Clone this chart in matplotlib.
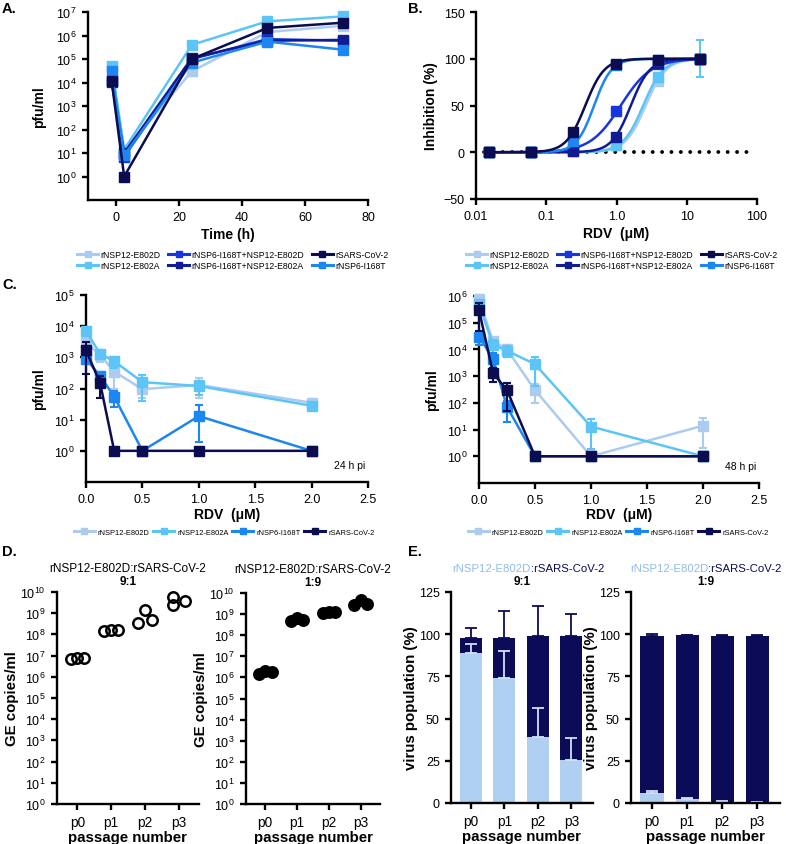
import numpy as np
import matplotlib
matplotlib.use('Agg')
import matplotlib.pyplot as plt
from matplotlib.lines import Line2D
from matplotlib.ticker import NullLocator, FixedLocator

plt.rcParams['font.family'] = ['Liberation Sans', 'DejaVu Sans']
plt.rcParams['mathtext.default'] = 'regular'

W, H = 786, 845

# ---- data ----
names = ['rNSP12-E802D', 'rNSP12-E802A', 'rNSP6-I168T+NSP12-E802D',
         'rNSP6-I168T+NSP12-E802A', 'rSARS-CoV-2', 'rNSP6-I168T']
colors = {'rNSP12-E802D': '#abcbef', 'rNSP12-E802A': '#5cc4f6',
          'rNSP6-I168T+NSP12-E802D': '#1536e0', 'rNSP6-I168T+NSP12-E802A': '#111c94',
          'rSARS-CoV-2': '#0c0d50', 'rNSP6-I168T': '#1c86f2'}

# A: growth kinetics (pfu/ml)
time_h = [-1.5, 2.5, 24, 48, 72]
growth_e802d = [4.5e4, 12, 3e4, 1.4e6, 2.6e6]
growth_e802a = [5e4, 14, 4e5, 4e6, 6.5e6]
growth_i168t_e802d = [1.2e4, 7, 1e5, 7e5, 6e5]
growth_i168t_e802a = [1.1e4, 10, 1.1e5, 6e5, 6.5e5]
growth_wt = [1.2e4, 1, 1e5, 2.1e6, 3.5e6]
growth_i168t = [3e4, 8, 7e4, 5.5e5, 2.5e5]

# B: inhibition (%) vs RDV (uM)
rdv_b = [0.0153, 0.061, 0.244, 0.977, 3.906, 15.625]
inh_e802d = [0, 0, 1, 8, 76, 100]
inh_e802a = [0, 0, 1, 8, 80, 100]
inh_e802a_sd = [3, 0, 0, 0, 5, 20]
inh_i168t_e802d = [0, 0, 3, 44, 94, 100]
inh_i168t_e802a = [0, 0, 1, 16, 95, 100]
inh_wt = [0, 0, 22, 94, 99, 100]
inh_i168t = [0, 0, 12, 93, 99, 100]
# fitted curve parameters (IC50 uM, hill slope)
ic50 = {'rNSP12-E802D': 2.6, 'rNSP12-E802A': 2.4, 'rNSP6-I168T+NSP12-E802D': 1.15,
        'rNSP6-I168T+NSP12-E802A': 1.6, 'rSARS-CoV-2': 0.36, 'rNSP6-I168T': 0.48}
hill = {'rNSP12-E802D': 3.0, 'rNSP12-E802A': 3.0, 'rNSP6-I168T+NSP12-E802D': 2.0,
        'rNSP6-I168T+NSP12-E802A': 3.2, 'rSARS-CoV-2': 3.2, 'rNSP6-I168T': 3.5}

# C: titers at 24 and 48 h pi
rdv_c = [0, 0.125, 0.25, 0.5, 1.0, 2.0]
c_names = ['rNSP12-E802D', 'rNSP12-E802A', 'rNSP6-I168T', 'rSARS-CoV-2']
t24_e802d = [3000, 1200, 350, 95, 130, 35]
t24_e802a = [7000, 1300, 750, 160, 120, 28]
t24_i168t = [900, 250, 55, 1, 13, 1]
t24_wt = [1700, 150, 1, 1, 1, 1]
t24_e802d_sd = [1000, 500, 250, 45, 80, 10]
t24_e802a_sd = [2000, 400, 300, 120, 60, 5]
t24_i168t_sd = [300, 100, 30, 0, 17, 0]
t24_wt_sd = [1400, 100, 0, 0, 0, 0]
t48_e802d = [7.5e5, 2e4, 1e4, 300, 1, 14]
t48_e802a = [5e5, 1.5e4, 9000, 2800, 13, 1]
t48_i168t = [3e4, 4500, 70, 1, 1, 1]
t48_wt = [3e5, 1300, 300, 1, 1, 1]
t48_e802d_sd = [3e5, 1e4, 5e3, 200, 0, 12]
t48_e802a_sd = [2e5, 8e3, 4e3, 2500, 12, 0]
t48_i168t_sd = [1.5e4, 3e3, 50, 0, 0, 0]
t48_wt_sd = [2.5e5, 700, 250, 0, 0, 0]

# D: genome copies per passage
passages = ['p0', 'p1', 'p2', 'p3']
ge_91 = [[7e6, 8e6, 8e6], [1.5e8, 1.7e8, 1.7e8], [3.5e8, 1.35e9, 5e8], [5.8e9, 2.4e9, 3.6e9]]
ge_19 = [[1.5e6, 2.1e6, 1.8e6], [4.6e8, 6.5e8, 5.5e8], [1.15e9, 1.25e9, 1.2e9], [2.8e9, 4.8e9, 3.1e9]]

# E: virus population (%)
pop_91_mut = [89, 74, 39, 25.5]
pop_91_tot = [97.5, 98, 99, 99]
pop_91_mut_sd = [5, 16, 17.5, 13]
pop_91_tot_sd = [6, 16, 17.5, 13]
pop_19_mut = [6, 2.5, 0.8, 0.6]
pop_19_tot = [99, 99.3, 99.2, 99.2]
pop_19_mut_sd = [1, 0.5, 0.2, 0.2]
pop_19_tot_sd = [1, 0.3, 0.2, 0.2]

light = '#b0d0f2'
dark = '#0b0b58'

fig = plt.figure(figsize=(W / 100, H / 100), dpi=100)


def add_ax(l, t, r, b):
    return fig.add_axes([l / W, 1 - b / H, (r - l) / W, (b - t) / H])


def style(ax):
    for s in ['top', 'right']:
        ax.spines[s].set_visible(False)
    for s in ['left', 'bottom']:
        ax.spines[s].set_linewidth(1.7)
    ax.tick_params(width=1.7, length=4, labelsize=9, direction='out', pad=4)


def decades(lo, hi):
    return [10.0 ** k for k in range(lo, hi + 1)]


lw, ms = 1.8, 7.5
lab_kw = dict(fontsize=10, fontweight='bold')
lab_kw2 = dict(fontsize=10.8, fontweight='bold')

# ---- A ----
ax = add_ax(88, 13, 368, 201)
style(ax)
growth = [growth_e802d, growth_e802a, growth_i168t_e802d, growth_i168t_e802a, growth_i168t, growth_wt]
order = [0, 1, 2, 3, 5, 4]
for z, (k, vals) in enumerate(zip(order, growth)):
    ax.plot(time_h, vals, '-s', color=colors[names[k]], lw=lw, ms=ms, clip_on=False, zorder=3 + z)
ax.set_yscale('log')
ax.set_ylim(0.1, 1e7)
ax.yaxis.set_major_locator(FixedLocator(decades(0, 7)))
ax.yaxis.set_minor_locator(NullLocator())
ax.set_xlim(-9, 80)
ax.set_xticks([0, 20, 40, 60, 80])
ax.set_xlabel('Time (h)', labelpad=3, **lab_kw)
ax.set_ylabel('pfu/ml', labelpad=7, **lab_kw)

# ---- B ----
ax = add_ax(476, 13, 757, 200)
style(ax)
ax.plot([0.013, 80], [0, 0], color='black', lw=2.8, ls=(0, (0.01, 2.4)), dash_capstyle='round', zorder=2)
inh = [inh_e802d, inh_e802a, inh_i168t_e802d, inh_i168t_e802a, inh_i168t, inh_wt]
xs = np.logspace(np.log10(rdv_b[0]), np.log10(rdv_b[-1]), 200)
for z, (k, vals) in enumerate(zip(order, inh)):
    nm = names[k]
    c = colors[nm]
    ax.plot(xs, 100 / (1 + (ic50[nm] / xs) ** hill[nm]), color=c, lw=lw, zorder=3 + z)
    if nm == 'rNSP12-E802A':
        ax.errorbar(rdv_b, vals, yerr=inh_e802a_sd, fmt='s', color=c, ms=ms,
                    capsize=3, elinewidth=1.5, capthick=1.5, zorder=3 + z)
    else:
        ax.plot(rdv_b, vals, 's', color=c, ms=ms, zorder=3 + z)
ax.set_xscale('log')
ax.set_xlim(0.01, 100)
ax.set_ylim(-50, 150)
ax.set_xticks([0.01, 0.1, 1, 10, 100])
ax.set_xticklabels(['0.01', '0.1', '1.0', '10', '100'])
ax.xaxis.set_minor_locator(NullLocator())
ax.set_yticks([-50, 0, 50, 100, 150])
ax.set_xlabel('RDV  (μM)', labelpad=3, **lab_kw)
ax.set_ylabel('Inhibition (%)', labelpad=4, **lab_kw)

# legends for A and B
handles = [Line2D([], [], color=colors[n], marker='s', ms=4.5, lw=2.2) for n in names]
for xc in [233, 622]:
    fig.legend(handles, names, loc='center', bbox_to_anchor=(xc / W, 1 - 261 / H), ncol=3,
               frameon=False, fontsize=6.2, handlelength=2.4, columnspacing=0.9,
               handletextpad=0.3, labelspacing=0.12, borderpad=0)

# ---- C ----
c_sets = [
    ([t24_e802d, t24_e802a, t24_i168t, t24_wt], [t24_e802d_sd, t24_e802a_sd, t24_i168t_sd, t24_wt_sd],
     (86, 296, 368, 483), 5, '24 h pi'),
    ([t48_e802d, t48_e802a, t48_i168t, t48_wt], [t48_e802d_sd, t48_e802a_sd, t48_i168t_sd, t48_wt_sd],
     (479, 297, 759, 484), 6, '48 h pi'),
]
for series, sds, box, top, lab in c_sets:
    ax = add_ax(*box)
    style(ax)
    for z, (nm, vals, sd) in enumerate(zip(c_names, series, sds)):
        vals = np.array(vals, float)
        sd = np.array(sd, float)
        lower = np.minimum(sd, vals * 0.85)
        ax.errorbar(rdv_c, vals, yerr=[lower, sd], fmt='-s', color=colors[nm], lw=lw, ms=ms,
                    capsize=3, elinewidth=1.5, capthick=1.5, clip_on=False, zorder=3 + z)
    ax.set_yscale('log')
    ax.set_ylim(0.1, 10.0 ** top)
    ax.yaxis.set_major_locator(FixedLocator(decades(0, top)))
    ax.yaxis.set_minor_locator(NullLocator())
    ax.set_xlim(0, 2.5)
    ax.set_xticks([0, 0.5, 1.0, 1.5, 2.0, 2.5])
    ax.set_xticklabels(['0.0', '0.5', '1.0', '1.5', '2.0', '2.5'])
    ax.set_xlabel('RDV  (μM)', labelpad=1, **lab_kw)
    ax.set_ylabel('pfu/ml', labelpad=6, **lab_kw)
    ax.text(0.99, 0.09, lab, transform=ax.transAxes, ha='right', va='center', fontsize=7.5)

c_handles = [Line2D([], [], color=colors[n], marker='s', ms=4.5, lw=2.2) for n in c_names]
for xc in [224, 618]:
    fig.legend(c_handles, c_names, loc='center', bbox_to_anchor=(xc / W, 1 - 533 / H), ncol=4,
               frameon=False, fontsize=5.4, handlelength=2.8, columnspacing=0.5,
               handletextpad=0.4, borderpad=0)

# ---- D ----
jitter = [-0.2, 0, 0.2]
for data, box, ratio, filled in [(ge_91, (57, 593, 199, 805), '9:1', False),
                                 (ge_19, (246, 594, 380, 805), '1:9', True)]:
    ax = add_ax(*box)
    style(ax)
    ax.tick_params(axis='x', labelsize=9.8)
    for i, pts in enumerate(data):
        offs = jitter if not (i == 3 and not filled) else [-0.18, -0.18, 0.18]
        ax.plot(np.array(offs) + i, pts, 'o', ms=7.5, mew=1.8, mec='black',
                mfc='black' if filled else 'none', clip_on=False)
    ax.set_yscale('log')
    ax.set_ylim(1, 1e10)
    ax.yaxis.set_major_locator(FixedLocator(decades(0, 10)))
    ax.yaxis.set_minor_locator(NullLocator())
    ax.set_xlim(-0.6, 3.6)
    ax.set_xticks(range(4))
    ax.set_xticklabels(passages)
    ax.set_xlabel('passage number', labelpad=1, **lab_kw2)
    ax.set_ylabel('GE copies/ml', labelpad=1, **lab_kw2)
    ax.text(0.5, 1.115, 'rNSP12-E802D:rSARS-CoV-2', transform=ax.transAxes,
            ha='center', va='center', fontsize=8.5)
    ax.text(0.5, 1.05, ratio, transform=ax.transAxes, ha='center', va='center',
            fontsize=8.5, fontweight='bold')

# ---- E ----
for mut, tot, mut_sd, tot_sd, box, ratio, split in [
        (pop_91_mut, pop_91_tot, pop_91_mut_sd, pop_91_tot_sd, (451, 593, 593, 804), '9:1', 0.56),
        (pop_19_mut, pop_19_tot, pop_19_mut_sd, pop_19_tot_sd, (631, 593, 780, 804), '1:9', 0.52)]:
    ax = add_ax(*box)
    style(ax)
    ax.tick_params(axis='x', labelsize=9.8)
    x = np.arange(4)
    mut = np.array(mut)
    tot = np.array(tot)
    ax.bar(x, mut, width=0.66, color=light)
    ax.bar(x, tot - mut, bottom=mut, width=0.66, color=dark)
    ax.errorbar(x, tot, yerr=[np.zeros(4), tot_sd], fmt='none', ecolor=dark,
                elinewidth=1.3, capsize=4, capthick=1.3)
    ax.errorbar(x, mut, yerr=[np.zeros(4), mut_sd], fmt='none', ecolor='#cfe1f6',
                elinewidth=1.3, capsize=4, capthick=1.3)
    ax.set_ylim(0, 125)
    ax.set_yticks([0, 25, 50, 75, 100, 125])
    ax.set_xlim(-0.6, 3.65)
    ax.set_xticks(x)
    ax.set_xticklabels(passages)
    ax.set_xlabel('passage number', labelpad=1, **lab_kw2)
    ax.set_ylabel('virus population (%)', labelpad=1, **lab_kw2)
    ax.text(split, 1.115, 'rNSP12-E802D', transform=ax.transAxes, ha='right',
            va='center', fontsize=8.2, color='#8fbcea')
    ax.text(split, 1.115, ':rSARS-CoV-2', transform=ax.transAxes, ha='left',
            va='center', fontsize=8.2, color=dark)
    ax.text(0.5, 1.05, ratio, transform=ax.transAxes, ha='center', va='center',
            fontsize=8.5, fontweight='bold')

# panel letters
for lab, px, py in [('A.', 2, 9), ('B.', 408, 9), ('C.', 2, 285), ('D.', 2, 552), ('E.', 408, 552)]:
    fig.text(px / W, 1 - py / H, lab, fontsize=10.5, fontweight='bold', va='center', ha='left')

fig.savefig('out.png', dpi=100)
